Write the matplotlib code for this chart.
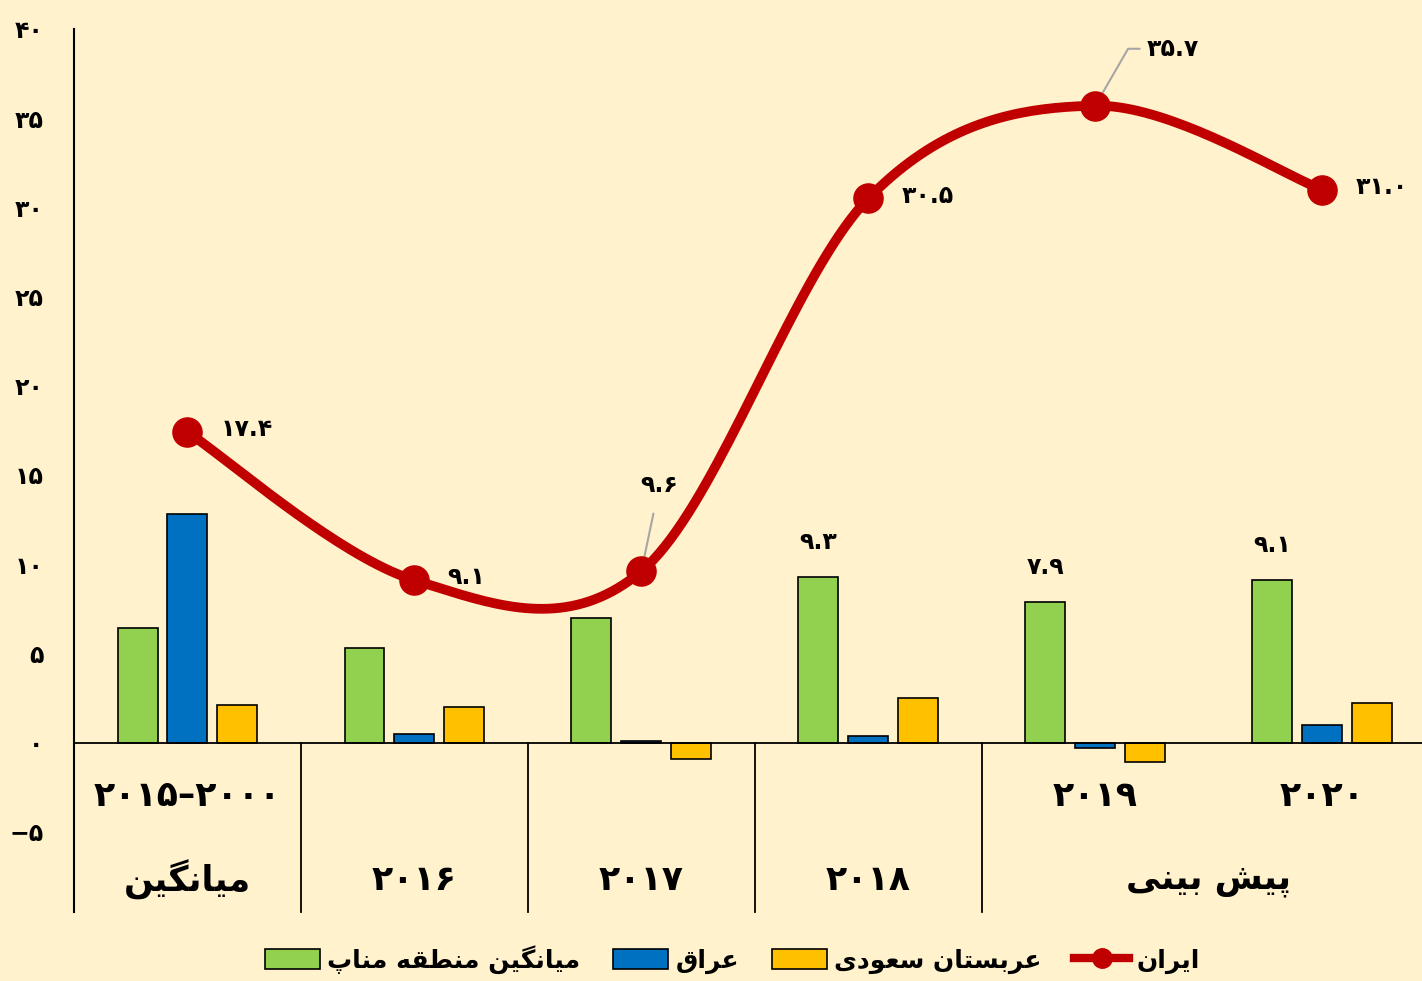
import numpy as np
import matplotlib
matplotlib.use("Agg")
import matplotlib.pyplot as plt
from matplotlib.lines import Line2D
from matplotlib.patches import Patch

# chart data
categories = ["2000-2015", "2016", "2017", "2018", "2019", "2020"]
menap_avg = [6.4, 5.3, 7.0, 9.3, 7.9, 9.1]
iraq = [12.8, 0.5, 0.1, 0.35, -0.3, 1.0]
saudi = [2.1, 2.0, -0.9, 2.5, -1.1, 2.2]
iran = [17.4, 9.1, 9.6, 30.5, 35.7, 31.0]

row1_labels = ["۲۰۱۵–۲۰۰۰", "", "", "", "۲۰۱۹", "۲۰۲۰"]
row2_labels = ["میانگین", "۲۰۱۶", "۲۰۱۷", "۲۰۱۸"]
forecast_label = "پیش بینی"
series_names = ["میانگین منطقه مناپ", "عراق", "عربستان سعودی", "ایران"]
yticks = [-5, 0, 5, 10, 15, 20, 25, 30, 35, 40]

BG = "#FFF2CC"
GREEN = "#92D050"
BLUE = "#0070C0"
YELLOW = "#FFC000"
RED = "#C00000"

FA_DIGITS = str.maketrans("0123456789-", "۰۱۲۳۴۵۶۷۸۹−")

# presentation forms: isolated, final, initial, medial
FORMS = {
    "ا": ("\uFE8D", "\uFE8E", None, None),
    "ب": ("\uFE8F", "\uFE90", "\uFE91", "\uFE92"),
    "ت": ("\uFE95", "\uFE96", "\uFE97", "\uFE98"),
    "د": ("\uFEA9", "\uFEAA", None, None),
    "ر": ("\uFEAD", "\uFEAE", None, None),
    "س": ("\uFEB1", "\uFEB2", "\uFEB3", "\uFEB4"),
    "ش": ("\uFEB5", "\uFEB6", "\uFEB7", "\uFEB8"),
    "ط": ("\uFEC1", "\uFEC2", "\uFEC3", "\uFEC4"),
    "ع": ("\uFEC9", "\uFECA", "\uFECB", "\uFECC"),
    "ق": ("\uFED5", "\uFED6", "\uFED7", "\uFED8"),
    "م": ("\uFEE1", "\uFEE2", "\uFEE3", "\uFEE4"),
    "ن": ("\uFEE5", "\uFEE6", "\uFEE7", "\uFEE8"),
    "ه": ("\uFEE9", "\uFEEA", "\uFEEB", "\uFEEC"),
    "و": ("\uFEED", "\uFEEE", None, None),
    "ی": ("\uFBFC", "\uFBFD", "\uFBFE", "\uFBFF"),
    "پ": ("\uFB56", "\uFB57", "\uFB58", "\uFB59"),
    "گ": ("\uFB92", "\uFB93", "\uFB94", "\uFB95"),
}


def shape(text):
    """Join Persian letters and put them in visual (left-to-right) order."""
    if not any(ch in FORMS for ch in text):
        return text  # digits only: already in display order
    out = []
    for i, ch in enumerate(text):
        if ch not in FORMS:
            out.append(ch)
            continue
        iso, fin, ini, med = FORMS[ch]
        prev = text[i - 1] if i > 0 else None
        nxt = text[i + 1] if i + 1 < len(text) else None
        join_prev = prev in FORMS and FORMS[prev][2] is not None
        join_next = ini is not None and nxt in FORMS
        if join_prev and join_next:
            out.append(med)
        elif join_prev:
            out.append(fin)
        elif join_next:
            out.append(ini)
        else:
            out.append(iso)
    return "".join(reversed(out))


def fa(value, fmt="{:.1f}"):
    return fmt.format(value).translate(FA_DIGITS)


def smooth(xs, ys, n=40):
    """Excel-like smoothed line (Catmull-Rom as cubic Bezier)."""
    pts = np.column_stack([xs, ys]).astype(float)
    out = []
    t = np.linspace(0, 1, n)[:, None]
    for i in range(len(pts) - 1):
        p0 = pts[max(i - 1, 0)]
        p1, p2 = pts[i], pts[i + 1]
        p3 = pts[min(i + 2, len(pts) - 1)]
        c1 = p1 + (p2 - p0) / 6
        c2 = p2 - (p3 - p1) / 6
        seg = ((1 - t) ** 3) * p1 + 3 * ((1 - t) ** 2) * t * c1 + 3 * (1 - t) * t ** 2 * c2 + t ** 3 * p2
        out.append(seg)
    out = np.vstack(out)
    return out[:, 0], out[:, 1]


plt.rcParams["font.family"] = ["DejaVu Sans"]
plt.rcParams["font.weight"] = "bold"

fig = plt.figure(figsize=(14.22, 9.81), dpi=100, facecolor=BG)
ax = fig.add_axes([74 / 1422, 69 / 981, 1348 / 1422, 883 / 981])
ax.set_facecolor(BG)

x = np.arange(len(categories))
w = 0.176
off = 0.22
ax.bar(x - off, menap_avg, w, color=GREEN, edgecolor="black", linewidth=1.2, zorder=2)
ax.bar(x, iraq, w, color=BLUE, edgecolor="black", linewidth=1.2, zorder=2)
ax.bar(x + off, saudi, w, color=YELLOW, edgecolor="black", linewidth=1.2, zorder=2)

sx, sy = smooth(x, iran)
ax.plot(sx, sy, color=RED, lw=7, solid_capstyle="round", zorder=3)
ax.plot(x, iran, "o", color=RED, ms=21, zorder=4)

ax.set_xlim(-0.5, 5.44)
ax.set_ylim(-9.5, 40)
ax.axhline(0, color="black", lw=1.3, zorder=2)
for b in x[:4] + 0.5:
    ax.plot([b, b], [0, -9.5], color="black", lw=1.3, clip_on=False)

ax.set_xticks([])
ax.set_yticks(yticks)
ax.set_yticklabels([fa(v, "{:d}") for v in yticks], fontsize=17, fontweight="bold")
ax.tick_params(axis="y", length=0, pad=22)
for s in ["top", "right", "bottom"]:
    ax.spines[s].set_visible(False)
ax.spines["left"].set_linewidth(1.5)

# category labels below the axis
for i, lab in enumerate(row1_labels):
    if lab:
        ax.text(i, -3.0, lab, ha="center", va="center", fontsize=25, fontweight="bold")
for i, lab in enumerate(row2_labels):
    ax.text(i, -7.7, shape(lab), ha="center", va="center", fontsize=25, fontweight="bold")
ax.text(4.5, -7.7, shape(forecast_label), ha="center", va="center", fontsize=25, fontweight="bold")

# data labels for Iran
lab_kw = dict(fontsize=17, fontweight="bold", va="center", textcoords="offset points")
for i in [0, 1, 3, 5]:
    ax.annotate(fa(iran[i]), (x[i], iran[i]), xytext=(24, 2), ha="left", **lab_kw)
ax.annotate(fa(iran[2]), (x[2], iran[2]), xytext=(13, 62), ha="center", **lab_kw,
            arrowprops=dict(arrowstyle="-", color="#A6A6A6", lw=1.5, shrinkA=10, shrinkB=0))
ax.annotate(fa(iran[4]), (x[4], iran[4]), xytext=(37, 41), ha="left", **lab_kw,
            arrowprops=dict(arrowstyle="-", color="#A6A6A6", lw=1.5, shrinkA=3, shrinkB=0,
                            connectionstyle="angle,angleA=0,angleB=60,rad=0"))

# labels for the last three green bars
for i in [3, 4, 5]:
    ax.annotate(fa(menap_avg[i]), (x[i] - off, menap_avg[i]), xytext=(0, 25),
                ha="center", **lab_kw)

handles = [
    Patch(facecolor=GREEN, edgecolor="black", lw=1.2),
    Patch(facecolor=BLUE, edgecolor="black", lw=1.2),
    Patch(facecolor=YELLOW, edgecolor="black", lw=1.2),
    Line2D([0], [0], color=RED, lw=6, marker="o", ms=14),
]
fig.legend(handles, [shape(n) for n in series_names], loc="center", ncol=4,
           bbox_to_anchor=(0.515, 0.022), frameon=False, prop=dict(size=18, weight="bold"),
           handlelength=2.2, handleheight=0.9, columnspacing=1.3, handletextpad=0.3)

fig.savefig("out.png", dpi=100, facecolor=BG)
